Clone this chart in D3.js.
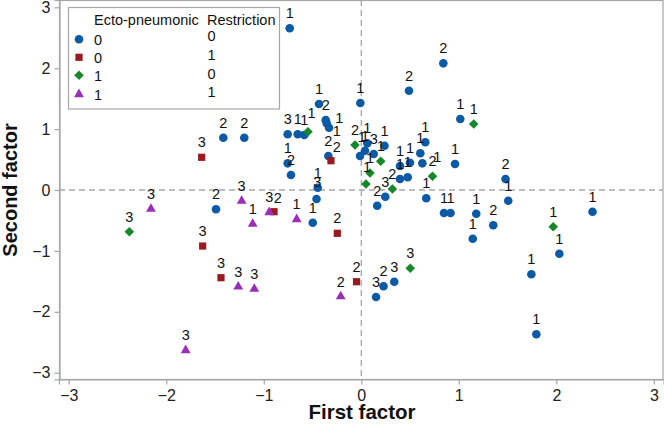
<!DOCTYPE html>
<html><head><meta charset="utf-8">
<script src="https://cdn.jsdelivr.net/npm/d3@7"></script>
<style>body{margin:0;background:#fff}svg{display:block;font-family:"Liberation Sans",Arial,sans-serif}</style>
</head><body><svg id="c" width="664" height="432"></svg>
<script>
// ---- data ----
const xTicks = [-3, -2, -1, 0, 1, 2, 3];
const yTicks = [-3, -2, -1, 0, 1, 2, 3];
const legendEcto = ["0", "0", "1", "1"];
const legendRestriction = ["0", "1", "0", "1"];
// [first factor, second factor, label]
const ecto0restr0 = [
  [-0.734, 2.655, "1"], [-0.434, 1.412, "1"], [-0.365, 1.149, "2"], [-0.355, 1.095, "1"],
  [-0.331, 1.023, "1"], [-0.338, 0.558, "2"], [-1.415, 0.859, "2"], [-1.200, 0.859, "2"],
  [-0.755, 0.915, "3"], [-0.652, 0.915, "1"], [-0.585, 0.903, "1"], [-0.755, 0.438, "1"],
  [-0.721, 0.246, "2"], [-0.447, 0.038, "1"], [-0.459, -0.148, "3"], [-1.490, -0.317, "2"],
  [-0.498, -0.537, "1"], [0.151, -1.757, "3"], [0.228, -1.581, "2"], [0.338, -1.506, "3"],
  [0.841, 2.080, "2"], [0.489, 1.631, "2"], [-0.010, 1.429, "1"], [1.015, 1.166, "1"],
  [1.479, 0.181, "2"], [1.507, -0.176, "1"], [2.371, -0.358, "1"], [2.031, -1.046, "1"],
  [1.744, -1.384, "1"], [1.795, -2.369, "1"], [1.353, -0.578, "2"], [1.143, -0.801, "1"],
  [1.179, -0.389, "1"], [0.848, -0.378, "1"], [0.915, -0.378, "1"], [0.666, -0.136, "1"],
  [0.961, 0.427, "1"], [0.062, 0.767, "1"], [0.038, 0.645, "1"], [-0.013, 0.558, "1"],
  [0.127, 0.591, "3"], [0.238, 0.727, "1"], [0.246, -0.110, "3"], [0.163, -0.258, "2"],
  [0.397, 0.394, "1"], [0.499, 0.448, "1"], [0.605, 0.603, "1"], [0.656, 0.783, "1"],
  [0.397, 0.181, "1"], [0.476, 0.209, "1"], [0.626, 0.438, "1"]
];
const ecto0restr1 = [
  [-1.637, 0.537, "3"], [-0.311, 0.481, "2"], [-0.895, -0.356, "2"], [-0.246, -0.711, "2"],
  [-1.627, -0.920, "3"], [-1.439, -1.440, "3"], [-0.049, -1.506, "2"]
];
const ecto1restr0 = [
  [-0.547, 0.957, "1"], [-2.379, -0.685, "3"], [0.502, -1.286, "3"], [1.153, 1.084, "1"],
  [1.968, -0.603, "1"], [-0.065, 0.739, "2"], [0.199, 0.471, "1"], [0.089, 0.279, "1"],
  [0.048, 0.099, "1"], [0.319, 0.016, "2"], [0.730, 0.225, "2"]
];
const ecto1restr1 = [
  [-2.157, -0.312, "3"], [-1.227, -0.181, "3"], [-1.114, -0.558, "1"], [-0.944, -0.366, "3"],
  [-0.663, -0.481, "1"], [-1.262, -1.588, "3"], [-1.097, -1.626, "3"], [-1.801, -2.632, "3"],
  [-0.211, -1.749, "2"]
];

// ---- layout / style ----
const x = d3.scaleLinear().domain([-3.1, 3.1]).range([59, 663.6]);
const y = d3.scaleLinear().domain([-3.11, 3.12]).range([379.4, 0]);
const labelNudge = { "0:3": [12.6, -5], "0:4": [7.7, 3], "0:50": [15, -6], "0:39": [1.7, -19],
  "0:14": [0.8, -17], "2:0": [3.7, -18.7], "1:1": [5.7, -14], "1:2": [3.7, -14], "2:8": [1, -17] };
const groups = [
  { data: ecto0restr0, color: "#0b5aa6", shape: "circle" },
  { data: ecto0restr1, color: "#9a1b1f", shape: "square" },
  { data: ecto1restr0, color: "#16882b", shape: "diamond" },
  { data: ecto1restr1, color: "#9b2db9", shape: "triangle" }
];
function symPath(shape) {
  if (shape === "circle") return d3.symbol(d3.symbolCircle, 58)();
  if (shape === "square") return d3.symbol(d3.symbolSquare, 52)();
  if (shape === "diamond") return d3.symbol(d3.symbolSquare, 46)();
  return d3.symbol(d3.symbolTriangle, 42)();
}
function symTransform(shape, px, py) {
  return shape === "diamond" ? `translate(${px},${py}) rotate(45)` : `translate(${px},${py})`;
}

const svg = d3.select("#c");
// frame
svg.append("rect").attr("x", 59.5).attr("y", 0.5).attr("width", 603.5).attr("height", 379)
  .attr("fill", "none").attr("stroke", "#a6a6a6").attr("stroke-width", 1.2);
// reference lines
svg.append("line").attr("x1", x(0)).attr("x2", x(0)).attr("y1", 0).attr("y2", 379.4)
  .attr("stroke", "#a8a8a8").attr("stroke-width", 1.3).attr("stroke-dasharray", "6,4");
svg.append("line").attr("x1", 59).attr("x2", 663).attr("y1", y(0)).attr("y2", y(0))
  .attr("stroke", "#a8a8a8").attr("stroke-width", 1.3).attr("stroke-dasharray", "6,4");

// axes
const fmt = d3.format("d");
const ax = svg.append("g").attr("transform", "translate(0,379.4)")
  .call(d3.axisBottom(x).tickValues(xTicks).tickFormat(fmt).tickSize(5).tickPadding(5));
const ay = svg.append("g").attr("transform", "translate(59.5,0)")
  .call(d3.axisLeft(y).tickValues(yTicks).tickFormat(fmt).tickSize(5).tickPadding(4));
[ax, ay].forEach(g => {
  g.select(".domain").attr("stroke", "#a6a6a6").attr("stroke-width", 1.2);
  g.selectAll(".tick line").attr("stroke", "#a6a6a6").attr("stroke-width", 1.2);
  g.selectAll(".tick text").attr("fill", "#222").style("font-size", "16px")
    .style("font-family", '"Liberation Sans",Arial,sans-serif');
});

// axis titles
svg.append("text").attr("x", 362).attr("y", 419).attr("text-anchor", "middle")
  .style("font-size", "20.5px").style("font-weight", "bold").attr("fill", "#111").text("First factor");
svg.append("text").attr("transform", "translate(17,190) rotate(-90)").attr("text-anchor", "middle")
  .style("font-size", "20px").style("font-weight", "bold").attr("fill", "#111").text("Second factor");

// points and labels
groups.forEach(g => {
  svg.append("g").selectAll("path").data(g.data).join("path")
    .attr("d", symPath(g.shape))
    .attr("transform", d => symTransform(g.shape, x(d[0]), y(d[1])))
    .attr("fill", g.color);
});
groups.forEach((g, gi) => {
  svg.append("g").selectAll("text").data(g.data).join("text")
    .attr("x", (d, i) => x(d[0]) + (labelNudge[gi + ":" + i] || [0, -15])[0])
    .attr("y", (d, i) => y(d[1]) + (labelNudge[gi + ":" + i] || [0, -15])[1] + 5)
    .attr("text-anchor", "middle").style("font-size", "14.5px").attr("fill", "#111")
    .text(d => d[2]);
});

// legend
const lg = svg.append("g");
lg.append("rect").attr("x", 68.5).attr("y", 7.5).attr("width", 211).attr("height", 101.5)
  .attr("fill", "#fff").attr("stroke", "#a6a6a6").attr("stroke-width", 1.2);
lg.append("text").attr("x", 94).attr("y", 25).style("font-size", "14.5px").attr("fill", "#111").text("Ecto-pneumonic");
lg.append("text").attr("x", 207).attr("y", 25).style("font-size", "14.5px").attr("fill", "#111").text("Restriction");
const rowY = [39.3, 57.3, 75.2, 94.3];
const rowY2 = [35, 54.3, 73.3, 91.3];
groups.forEach((g, i) => {
  lg.append("path").attr("d", symPath(g.shape)).attr("transform", symTransform(g.shape, 79, rowY[i]))
    .attr("fill", g.color);
  lg.append("text").attr("x", 94).attr("y", rowY[i] + 5.5).style("font-size", "14.5px").attr("fill", "#111").text(legendEcto[i]);
  lg.append("text").attr("x", 207.5).attr("y", rowY2[i] + 5.5).style("font-size", "14.5px").attr("fill", "#111").text(legendRestriction[i]);
});
</script>
</body></html>
